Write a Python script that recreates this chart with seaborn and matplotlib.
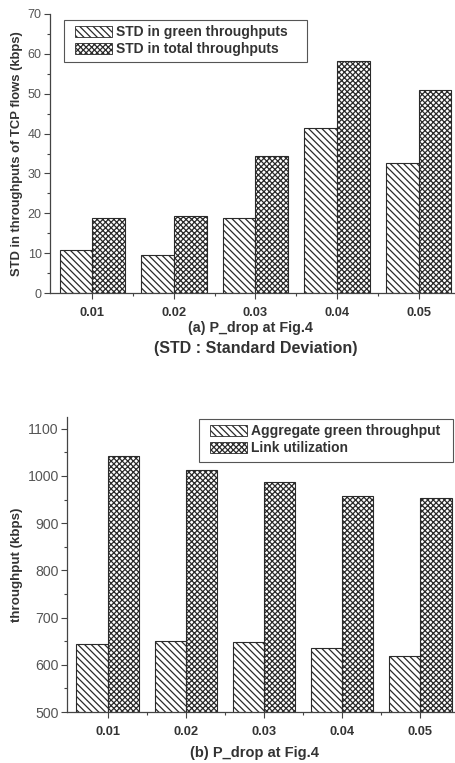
import matplotlib
matplotlib.use("Agg")
import matplotlib.pyplot as plt
import matplotlib.patches as mpatches
import seaborn as sns
import pandas as pd
from matplotlib.ticker import MultipleLocator, AutoMinorLocator

sns.set_theme(style="ticks")
plt.rcParams['font.family'] = ['Liberation Sans', 'DejaVu Sans']
plt.rcParams['hatch.linewidth'] = 0.9

categories = ["0.01", "0.02", "0.03", "0.04", "0.05"]
std_green = [10.9, 9.5, 18.8, 41.4, 32.6]
std_total = [18.9, 19.2, 34.4, 58.2, 50.9]
agg_green = [645, 651, 648, 635, 618]
link_util = [1042, 1012, 988, 958, 953]

series_a = ["STD in green throughputs", "STD in total throughputs"]
series_b = ["Aggregate green throughput", "Link utilization"]

df_a = pd.DataFrame({
    "p": categories * 2,
    "v": std_green + std_total,
    "s": [series_a[0]] * 5 + [series_a[1]] * 5,
})
df_b = pd.DataFrame({
    "p": categories * 2,
    "v": agg_green + link_util,
    "s": [series_b[0]] * 5 + [series_b[1]] * 5,
})

W, H = 456, 763
fig = plt.figure(figsize=(W / 100, H / 100), dpi=100)

def ax_at(l, t, r, b):
    return fig.add_axes([l / W, 1 - b / H, (r - l) / W, (b - t) / H])

ax1 = ax_at(50, 14, 461, 293)
ax2 = ax_at(67, 417, 461, 712)

hatches = ["\\\\\\\\\\", "xxxxxx"]
edge = "#2a2a2a"
tc = "#333333"

def draw(ax, df, order, ysize):
    sns.barplot(data=df, x="p", y="v", hue="s", hue_order=order, order=categories,
                ax=ax, width=0.8, palette=["white", "white"],
                edgecolor=edge, linewidth=0.8, saturation=1, errorbar=None)
    for cont, h in zip(ax.containers, hatches):
        for p in cont:
            p.set_hatch(h)
            p.set_facecolor("white")
            p.set_edgecolor(edge)
    ax.set_xlim(-0.52, 4.52)
    ax.set_xlabel("")
    ax.set_ylabel("")
    for s in ["top", "right"]:
        ax.spines[s].set_visible(False)
    for s in ["left", "bottom"]:
        ax.spines[s].set_color("#444444")
        ax.spines[s].set_linewidth(0.9)
    ax.set_xticks(range(5))
    ax.set_xticklabels(categories, fontweight="bold", fontsize=9.3, color=tc)
    ax.set_xticks([i + 0.5 for i in range(4)], minor=True)
    ax.tick_params(axis="x", which="major", length=4, width=0.8, color="#444444", pad=6)
    ax.tick_params(axis="x", which="minor", length=2.5, width=0.8, color="#444444")
    ax.tick_params(axis="y", which="major", length=4, width=0.8, color="#444444",
                   labelsize=ysize, labelcolor="#555555", pad=2)
    ax.tick_params(axis="y", which="minor", length=2.5, width=0.8, color="#444444")
    ax.yaxis.set_minor_locator(AutoMinorLocator(2))
    ax.set_facecolor("white")

def legend(ax, hx, hy, frame):
    # hx, hy: top-left of first handle (figure pixels); frame: (l, t, r, b) pixels
    leg = ax.legend(loc="upper left", bbox_to_anchor=(hx / W, 1 - hy / H),
                    bbox_transform=fig.transFigure,
                    frameon=False, prop={"weight": "bold", "size": 10},
                    handlelength=2.65, handleheight=0.85, borderpad=0,
                    labelspacing=0.22, handletextpad=0.3, borderaxespad=0)
    for t in leg.get_texts():
        t.set_color(tc)
    for hnd, h in zip(leg.legend_handles, hatches):
        hnd.set_hatch(h)
        hnd.set_facecolor("white")
        hnd.set_edgecolor(edge)
        hnd.set_linewidth(0.6)
    l, t, r, b = frame
    rect = mpatches.Rectangle((l / W, 1 - b / H), (r - l) / W, (b - t) / H,
                              transform=fig.transFigure, facecolor="none",
                              edgecolor="#555555", linewidth=0.8, zorder=5)
    fig.patches.append(rect)
    return leg

draw(ax1, df_a, series_a, 9)
ax1.set_ylim(0, 70)
ax1.yaxis.set_major_locator(MultipleLocator(10))
ax1.set_ylabel("STD in throughputs of TCP flows (kbps)", fontweight="bold",
               fontsize=9.4, color=tc, labelpad=3)
legend(ax1, 75, 25, (64, 20, 307, 62))

draw(ax2, df_b, series_b, 10.2)
ax2.set_ylim(500, 1125)
ax2.yaxis.set_major_locator(MultipleLocator(100))
ax2.set_ylabel("throughput (kbps)", fontweight="bold", fontsize=9.6, color=tc, labelpad=3)
legend(ax2, 210, 424, (199, 419, 453, 462))

fig.text(250 / W, 1 - 328 / H, "(a) P_drop at Fig.4", ha="center", va="center",
         fontsize=10.3, fontweight="bold", color=tc)
fig.text(256 / W, 1 - 348 / H, "(STD : Standard Deviation)", ha="center", va="center",
         fontsize=11.5, fontweight="bold", color=tc)
fig.text(255 / W, 1 - 753 / H, "(b) P_drop at Fig.4", ha="center", va="center",
         fontsize=10.5, fontweight="bold", color=tc)

fig.savefig("out.png", dpi=100, facecolor="white")
